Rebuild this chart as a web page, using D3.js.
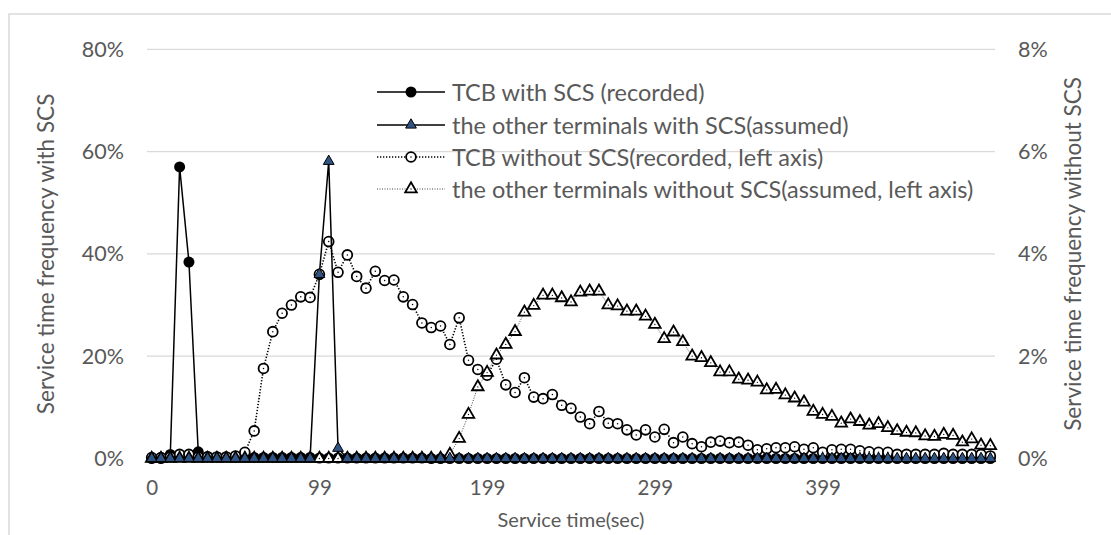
<!DOCTYPE html>
<html>
<head>
<meta charset="utf-8">
<script src="https://cdn.jsdelivr.net/npm/d3@7"></script>
<style>
  html, body { margin: 0; padding: 0; background: #fff; }
  svg { display: block; font-family: Lato, "Open Sans", sans-serif; }
</style>
</head>
<body>
<svg id="chart" width="1111" height="535"></svg>
<script>
// Service-time bins (seconds, start of each bin)
const serviceTime = [0,5,11,16,22,27,33,38,44,49,55,60,66,72,77,83,88,94,99,105,
  110,116,121,127,133,138,144,149,155,160,166,171,177,182,188,194,199,205,210,216,
  221,227,232,238,243,249,255,260,266,271,277,282,288,293,299,304,310,316,321,327,
  332,338,343,349,354,360,365,371,377,382,388,393,399,404,410,415,421,426,432,438,
  443,449,454,460,465,471,476,482,487,493,499];

// Category labels shown on the x axis (every 18th bin)
const xTickLabels = ["0", "99", "199", "299", "399"];

// With SCS (left axis, %)
const tcbWithScs = [0,0,0.8,57.0,38.4,1.3,0.4,0.3,0.3,0.2,0.2,0.2,0.2,0.2,0.2,0.2,0.2,0.2,0.1,0.1,
  0.1,0.1,0.1,0.1,0.1,0.1,0.1,0.1,0.1,0.1,0,0,0,0,0,0,0,0,0,0,
  0,0,0,0,0,0,0,0,0,0,0,0,0,0,0,0,0,0,0,0,
  0,0,0,0,0,0,0,0,0,0,0,0,0,0,0,0,0,0,0,0,
  0,0,0,0,0,0,0,0,0,0,0];
const otherWithScs = [0,0,0,0,0,0,0,0,0,0,0,0,0,0,0,0,0,0,36.0,58.1,
  2.0,0,0,0,0,0,0,0,0,0,0,0,0,0,0,0,0,0,0,0,
  0,0,0,0,0,0,0,0,0,0,0,0,0,0,0,0,0,0,0,0,
  0,0,0,0,0,0,0,0,0,0,0,0,0,0,0,0,0,0,0,0,
  0,0,0,0,0,0,0,0,0,0,0];

// Without SCS (right axis, %)
const tcbWithoutScs = [0.02,0.02,0.03,0.08,0.08,0.03,0.03,0.03,0.03,0.05,0.12,0.54,1.76,2.48,2.84,3.00,3.16,3.15,3.60,4.24,
  3.64,3.98,3.56,3.33,3.66,3.48,3.49,3.16,3.01,2.65,2.56,2.59,2.23,2.75,1.92,1.74,1.63,1.94,1.44,1.29,
  1.58,1.20,1.17,1.25,1.04,0.98,0.81,0.68,0.92,0.69,0.68,0.56,0.46,0.56,0.42,0.57,0.31,0.42,0.29,0.23,
  0.32,0.34,0.31,0.32,0.26,0.17,0.19,0.21,0.21,0.23,0.18,0.21,0.12,0.17,0.18,0.18,0.15,0.13,0.12,0.12,
  0.08,0.08,0.08,0.08,0.08,0.10,0.08,0.08,0.08,0.08,0.05];
const otherWithoutScs = [0,0,0,0,0,0,0,0,0,0,0,0,0,0,0,0,0,0,0,0,
  0,0,0,0,0,0,0,0,0,0,0,0,0.08,0.39,0.86,1.40,1.68,2.02,2.23,2.48,
  2.86,2.99,3.19,3.19,3.14,3.06,3.25,3.27,3.27,3.00,2.98,2.88,2.88,2.78,2.62,2.34,2.47,2.28,2.00,1.97,
  1.87,1.69,1.69,1.55,1.53,1.49,1.34,1.35,1.24,1.18,1.10,0.92,0.86,0.82,0.69,0.77,0.72,0.65,0.68,0.60,
  0.54,0.51,0.50,0.44,0.43,0.47,0.45,0.32,0.38,0.26,0.25];

const leftTicks = [0, 20, 40, 60, 80];
const rightTicks = [0, 2, 4, 6, 8];

const legendLabels = [
  "TCB with SCS (recorded)",
  "the other terminals with SCS(assumed)",
  "TCB without SCS(recorded, left axis)",
  "the other terminals without SCS(assumed, left axis)"
];

const svg = d3.select("#chart");
const textColor = "#595959";
const gridColor = "#d9d9d9";
const blue = "#2f5483";

const plot = { left: 147, right: 995, top: 49.3, bottom: 458.5 };

// chart frame
svg.append("rect")
  .attr("x", 9).attr("y", 14).attr("width", 1200).attr("height", 700)
  .attr("fill", "#fff").attr("stroke", gridColor).attr("stroke-width", 1.5);

const idx = d3.range(serviceTime.length);
const x = d3.scalePoint().domain(idx).range([plot.left, plot.right]).padding(0.5);
const yL = d3.scaleLinear().domain([0, 80]).range([plot.bottom, plot.top]);
const yR = d3.scaleLinear().domain([0, 8]).range([plot.bottom, plot.top]);

// gridlines
svg.append("g").selectAll("line").data(leftTicks.slice(1)).join("line")
  .attr("x1", plot.left).attr("x2", plot.right)
  .attr("y1", d => yL(d)).attr("y2", d => yL(d))
  .attr("stroke", gridColor).attr("stroke-width", 1.3);

// left axis
const leftAxis = svg.append("g").attr("transform", `translate(${plot.left},0)`)
  .call(d3.axisLeft(yL).tickValues(leftTicks).tickFormat(d => d + "%").tickSize(0).tickPadding(23));
leftAxis.select(".domain").remove();
leftAxis.selectAll("text").attr("fill", textColor).style("font-size", "21.5px").style("font-family", "Lato");

// right axis
const rightAxis = svg.append("g").attr("transform", `translate(${plot.right},0)`)
  .call(d3.axisRight(yR).tickValues(rightTicks).tickFormat(d => d + "%").tickSize(0).tickPadding(23));
rightAxis.select(".domain").remove();
rightAxis.selectAll("text").attr("fill", textColor).style("font-size", "21.5px").style("font-family", "Lato");

// x axis (category labels every 18 bins)
const xTickIdx = xTickLabels.map(l => serviceTime.indexOf(+l));
const bottomAxis = svg.append("g").attr("transform", `translate(0,${plot.bottom})`)
  .call(d3.axisBottom(x).tickValues(xTickIdx).tickFormat(i => String(serviceTime[i])).tickSize(0).tickPadding(22));
bottomAxis.select(".domain").remove();
bottomAxis.selectAll("text").attr("fill", textColor).style("font-size", "20.5px").style("font-family", "Lato");

// axis titles
svg.append("text").attr("x", (plot.left + plot.right) / 2).attr("y", 519)
  .attr("text-anchor", "middle").attr("dominant-baseline", "central")
  .attr("fill", textColor).style("font-size", "20px").text("Service time(sec)");
svg.append("text").attr("transform", `translate(45,${(plot.top + plot.bottom) / 2}) rotate(-90)`)
  .attr("text-anchor", "middle").attr("dominant-baseline", "central")
  .attr("fill", textColor).style("font-size", "22.5px").text("Service time frequency with SCS");
svg.append("text").attr("transform", `translate(1072,${(plot.top + plot.bottom) / 2}) rotate(-90)`)
  .attr("text-anchor", "middle").attr("dominant-baseline", "central")
  .attr("fill", textColor).style("font-size", "22.5px").text("Service time frequency without SCS");

const tri = d3.symbol().type(d3.symbolTriangle).size(58)();
const triBlue = d3.symbol().type(d3.symbolTriangle).size(50)();

const styles = [
  { values: tcbWithScs, y: yL, dash: null, width: 1.5, stroke: "#000", marker: "dot" },
  { values: otherWithScs, y: yL, dash: null, width: 1.5, stroke: "#000", marker: "blueTri" },
  { values: tcbWithoutScs, y: yR, dash: "1.3,1.7", width: 1.6, stroke: "#000", marker: "ring" },
  { values: otherWithoutScs, y: yR, dash: "1,1.5", width: 1, stroke: "#444", marker: "hollowTri" }
];

function drawMarker(g, type) {
  if (type === "dot") {
    g.append("circle").attr("r", 5.5).attr("fill", "#000");
  } else if (type === "blueTri") {
    g.append("path").attr("d", triBlue).attr("fill", blue).attr("stroke", "#000").attr("stroke-width", 1);
  } else if (type === "ring") {
    g.append("circle").attr("r", 4.9).attr("fill", "#fff").attr("stroke", "#000").attr("stroke-width", 1.8);
    g.append("circle").attr("r", 0.75).attr("fill", "#000");
  } else {
    g.append("path").attr("d", tri).attr("fill", "#fff").attr("stroke", "#000").attr("stroke-width", 1.8);
    g.append("circle").attr("r", 0.65).attr("fill", "#000");
  }
}

// draw order: TCB with SCS, the two "without" series, then other terminals with SCS on top
[0, 2, 3, 1].forEach(k => {
  const s = styles[k];
  const g = svg.append("g");
  const line = d3.line().x((d, i) => x(i)).y(d => s.y(d));
  g.append("path").datum(s.values).attr("d", line)
    .attr("fill", "none").attr("stroke", s.stroke).attr("stroke-width", s.width)
    .attr("stroke-dasharray", s.dash);
  g.selectAll("g.m").data(s.values).join("g").attr("class", "m")
    .attr("transform", (d, i) => `translate(${x(i)},${s.y(d)})`)
    .each(function () { drawMarker(d3.select(this), s.marker); });
});

// legend
const legend = svg.append("g");
const legendRows = [92, 125, 157, 189];
legendLabels.forEach((label, k) => {
  const s = styles[k];
  const ly = legendRows[k];
  legend.append("line").attr("x1", 377).attr("x2", 445).attr("y1", ly).attr("y2", ly)
    .attr("stroke", s.stroke).attr("stroke-width", s.width).attr("stroke-dasharray", s.dash);
  drawMarker(legend.append("g").attr("transform", `translate(411,${ly})`), s.marker);
  legend.append("text").attr("x", 452).attr("y", ly).attr("dominant-baseline", "central")
    .attr("fill", textColor).style("font-size", "23.5px").text(label);
});
</script>
</body>
</html>
